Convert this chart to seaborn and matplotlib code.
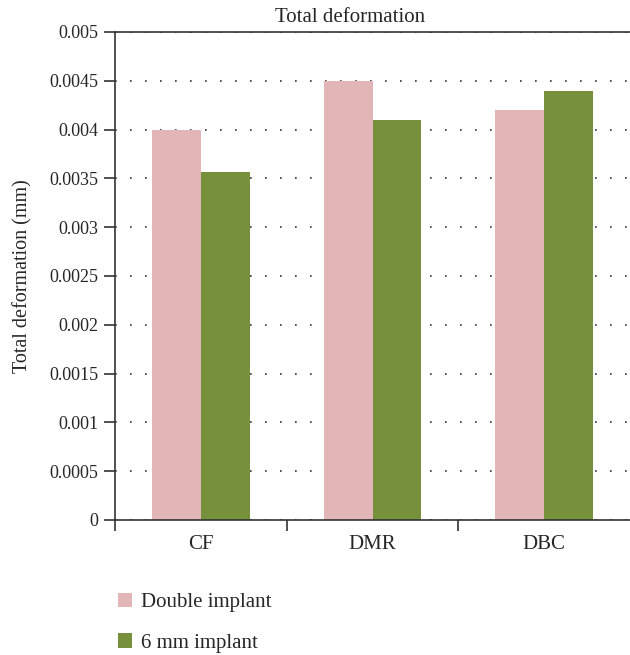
import matplotlib
matplotlib.use("Agg")
import matplotlib.pyplot as plt
import matplotlib.ticker as mticker
import seaborn as sns
import pandas as pd

# data
sites = ["CF", "DMR", "DBC"]
double_implant = [0.0040, 0.0045, 0.0042]
six_mm_implant = [0.00357, 0.0041, 0.0044]
series_names = ["Double implant", "6 mm implant"]
colors = ["#E2B6B6", "#76903B"]

df = pd.DataFrame({
    "site": sites * 2,
    "value": double_implant + six_mm_implant,
    "implant": [series_names[0]] * 3 + [series_names[1]] * 3,
})

sns.set_style("white")
plt.rcParams["font.family"] = ["Liberation Serif", "DejaVu Serif"]
plt.rcParams["font.size"] = 13

fig = plt.figure(figsize=(6.3, 6.55), dpi=100)
ax = fig.add_axes([115 / 630, 135 / 655, 515 / 630, 488 / 655])

sns.barplot(data=df, x="site", y="value", hue="implant", palette=colors,
            width=0.57, linewidth=0, saturation=1, ax=ax, legend=True)

ax.set_xlim(-0.5, 2.5)
ax.set_ylim(0, 0.005)
ax.set_yticks([i * 0.0005 for i in range(11)])
ax.yaxis.set_major_formatter(mticker.FuncFormatter(lambda v, p: f"{v:g}"))
ax.set_xlabel("")
ax.set_ylabel("Total deformation (mm)", fontsize=14.5, labelpad=12)

# category labels at centres, tick marks at boundaries
ax.set_xticks([0, 1, 2])
ax.set_xticks([-0.5, 0.5, 1.5], minor=True)
ax.tick_params(axis="x", which="major", bottom=True, length=0, pad=11, labelsize=15)
ax.tick_params(axis="x", which="minor", bottom=True, length=8, width=1.2,
               color="#333333", direction="out")
ax.tick_params(axis="y", which="major", left=True, length=8, width=1.2,
               color="#333333", direction="out", pad=4, labelsize=13)

ax.grid(axis="y", linestyle=(0, (1, 8)), linewidth=1.2, color="#333333")
ax.set_axisbelow(True)

for side in ["left", "bottom", "top"]:
    ax.spines[side].set_visible(True)
    ax.spines[side].set_color("#333333")
    ax.spines[side].set_linewidth(1.2)
ax.spines["right"].set_visible(False)

fig.text(350 / 630, 1 - 18 / 655, "Total deformation", ha="center", va="center", fontsize=15)

handles, labels = ax.get_legend_handles_labels()
ax.legend_.remove()
fig.legend(handles, labels, loc="upper left", bbox_to_anchor=(99 / 630, 1 - 574 / 655),
           frameon=False, handlelength=0.7, handleheight=0.7, handletextpad=0.4,
           labelspacing=1.0, fontsize=15)

fig.savefig("out.png", dpi=100)
